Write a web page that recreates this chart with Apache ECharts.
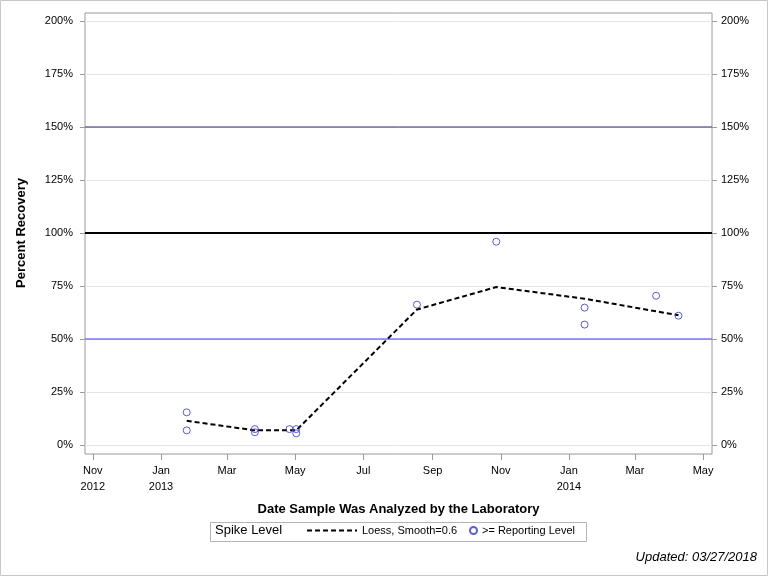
<!DOCTYPE html>
<html>
<head>
<meta charset="utf-8">
<script src="https://cdn.jsdelivr.net/npm/echarts@6/dist/echarts.min.js"></script>
<style>
html,body{margin:0;padding:0;background:#fff;}
#chart{width:768px;height:576px;}
</style>
</head>
<body>
<div id="chart"></div>
<script>
// ---- data ----
var sampleDates = ['2013-01-24','2013-01-24','2013-03-26','2013-03-26','2013-04-26','2013-05-02','2013-05-02','2013-08-18','2013-10-28','2014-01-15','2014-01-15','2014-03-20','2014-04-09'];
var recovery    = [15.4, 6.9, 7.5, 6.0, 7.5, 7.5, 5.5, 66.2, 95.9, 64.8, 56.8, 70.4, 61.0];

var loessDates  = ['2013-01-24','2013-03-26','2013-04-26','2013-05-02','2013-08-18','2013-10-28','2014-01-15','2014-04-09'];
var loessValues = [11.4, 6.9, 6.9, 6.9, 63.9, 74.5, 69.0, 61.2];

var tickDates  = ['2012-11-01','2013-01-01','2013-03-01','2013-05-01','2013-07-01','2013-09-01','2013-11-01','2014-01-01','2014-03-01','2014-05-01'];
var tickLabels = ['Nov\n2012','Jan\n2013','Mar','May','Jul','Sep','Nov','Jan\n2014','Mar','May'];

var refLevels   = [150, 100, 50];
var refColors   = ['#2a2a6e', '#000000', '#3a3af0'];
var refWidths   = [1, 2, 1];

var xMinDate = '2012-10-25';
var xMaxDate = '2014-05-09';

function ts(s){ var p = s.split('-'); return Date.UTC(+p[0], +p[1]-1, +p[2]); }

var tickTs = tickDates.map(ts);
var scatterData = sampleDates.map(function(d,i){ return [ts(d), recovery[i]]; });
var loessData = loessDates.map(function(d,i){ return [ts(d), loessValues[i]]; });

var FONT = 'Liberation Sans, Arial, sans-serif';
var chart = echarts.init(document.getElementById('chart'), null, {renderer:'canvas'});

var refSeries = refLevels.map(function(v, i){
  return {
    name: 'ref' + v,
    type: 'line', xAxisIndex: 0, yAxisIndex: 0,
    data: [[ts(xMinDate), v], [ts(xMaxDate), v]],
    symbol: 'none', showSymbol: false,
    silent: true,
    z: 2,
    lineStyle: {color: refColors[i], width: refWidths[i], type: 'solid'},
    itemStyle: {color: refColors[i]},
    emphasis: {disabled: true}
  };
});

var option = {
  backgroundColor: '#fff',
  animation: false,
  textStyle: {fontFamily: FONT},
  title: {
    text: 'Updated: 03/27/2018',
    right: 11, bottom: 12,
    padding: 0,
    textStyle: {fontFamily: FONT, fontSize: 13, fontWeight: 'normal', fontStyle: 'italic', color: '#000'}
  },
  grid: [
    {left: 85, right: 56, top: 21, bottom: 131, show: false},
    {left: 85, right: 56, top: 13, bottom: 122, show: true, borderColor: '#9a9a9a', borderWidth: 1, backgroundColor: 'transparent'}
  ],
  xAxis: [
    {type: 'value', gridIndex: 0, show: false, min: ts(xMinDate), max: ts(xMaxDate)},
    {
      type: 'value', gridIndex: 1,
      min: ts(xMinDate), max: ts(xMaxDate),
      name: 'Date Sample Was Analyzed by the Laboratory',
      nameLocation: 'middle', nameGap: 49,
      nameTextStyle: {fontFamily: FONT, fontSize: 13, fontWeight: 'bold', color: '#000'},
      axisLine: {show: false},
      axisTick: {show: true, length: 6, lineStyle: {color: '#9a9a9a'}, customValues: tickTs},
      axisLabel: {
        customValues: tickTs,
        margin: 9,
        fontFamily: FONT, fontSize: 11, color: '#000', lineHeight: 16,
        formatter: function(v){ var i = tickTs.indexOf(v); return i >= 0 ? tickLabels[i] : ''; }
      },
      splitLine: {show: false}
    }
  ],
  yAxis: [
    {
      type: 'value', gridIndex: 0, position: 'left',
      min: 0, max: 200, interval: 25,
      name: 'Percent Recovery', nameLocation: 'middle', nameGap: 57,
      nameTextStyle: {fontFamily: FONT, fontSize: 13, fontWeight: 'bold', color: '#000'},
      axisLine: {show: false},
      axisTick: {show: true, length: 5, lineStyle: {color: '#9a9a9a'}},
      axisLabel: {margin: 12, fontFamily: FONT, fontSize: 11, color: '#000', formatter: '{value}%'},
      splitLine: {show: true, lineStyle: {color: '#e4e4e4', width: 1}}
    },
    {
      type: 'value', gridIndex: 0, position: 'right',
      min: 0, max: 200, interval: 25,
      axisLine: {show: false},
      axisTick: {show: true, length: 5, lineStyle: {color: '#9a9a9a'}},
      axisLabel: {margin: 9, fontFamily: FONT, fontSize: 11, color: '#000', formatter: '{value}%'},
      splitLine: {show: false}
    },
    {type: 'value', gridIndex: 1, show: false, min: 0, max: 1}
  ],
  legend: [
    {
      data: ['Loess, Smooth=0.6'],
      left: 306, top: 525, padding: 0,
      itemWidth: 50, itemHeight: 10, itemGap: 10,
      itemStyle: {opacity: 0},
      textStyle: {fontFamily: FONT, fontSize: 11, color: '#000'},
      selectedMode: false
    },
    {
      data: ['>= Reporting Level'],
      left: 469, top: 525, padding: 0,
      itemWidth: 7, itemHeight: 7,
      textStyle: {fontFamily: FONT, fontSize: 11, color: '#000'},
      selectedMode: false
    }
  ],
  graphic: [
    {type: 'rect', shape: {x: 0.5, y: 0.5, width: 767, height: 575}, style: {fill: 'none', stroke: '#c8c8c8', lineWidth: 1}, silent: true},
    {type: 'rect', shape: {x: 210.5, y: 522.5, width: 376, height: 19}, style: {fill: 'none', stroke: '#b4b4b4', lineWidth: 1}, silent: true},
    {type: 'text', left: 215, top: 524, style: {text: 'Spike Level', font: '13px ' + FONT, fill: '#000'}, silent: true}
  ],
  series: refSeries.concat([
    {
      name: 'Loess, Smooth=0.6',
      type: 'line', xAxisIndex: 0, yAxisIndex: 0,
      data: loessData,
      symbol: 'none', showSymbol: false,
      lineStyle: {color: '#000', width: 2, type: [5, 3]},
      itemStyle: {color: '#000'},
      z: 3
    },
    {
      name: '>= Reporting Level',
      type: 'scatter', xAxisIndex: 0, yAxisIndex: 0,
      data: scatterData,
      symbol: 'circle', symbolSize: 7,
      itemStyle: {color: 'rgba(255,255,255,0)', borderColor: '#3333cc', borderWidth: 1},
      z: 4
    }
  ])
};
chart.setOption(option);
</script>
</body>
</html>
